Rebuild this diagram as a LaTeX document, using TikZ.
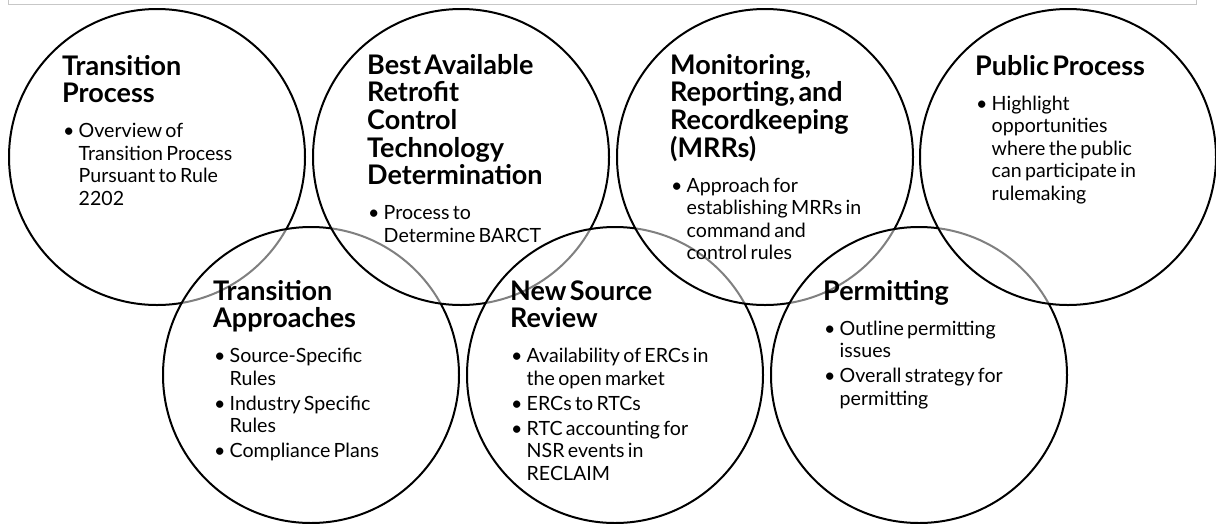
\documentclass[tikz,border=0pt]{standalone}
\usepackage{fontspec}
\setmainfont{Lato}
\newcommand\hdfont{\fontsize{27}{27.7}\selectfont\bfseries}
\newcommand\bdfont{\fontsize{19.6}{22.5}\selectfont}
\newcommand\hd[1]{{\hdfont #1\par}\vspace{10pt}}
\newcommand\itm[1]{\par\vspace{2.5pt}{\bdfont\hangindent=16.5pt\hangafter=1\noindent\makebox[16.5pt][l]{\hspace{1pt}\textbullet}#1\par}}
\tikzset{
  ring/.style={circle, draw, line width=2pt, fill=white, fill opacity=0.5,
    minimum size=296pt, inner sep=0pt},
  txt/.style={anchor=base west, inner sep=0pt, text width=270pt, align=left},
  frame/.style={draw=black!22, line width=1pt}
}
\begin{document}
\begin{tikzpicture}[x=1pt, y=-1pt]
    \useasboundingbox (0,0) rectangle (1216,523);
    %Frame
        \draw[frame] (8,0) -- (8,4) -- (1196,4) -- (1196,0);

    %Circles
        \node[ring] (tp) at (157,157) {};
        \node[ring] (ta) at (311,375) {};
        \node[ring] (barct) at (461,157) {};
        \node[ring] (nsr) at (615,375) {};
        \node[ring] (mrr) at (765,157) {};
        \node[ring] (perm) at (919,375) {};
        \node[ring] (pub) at (1068,157) {};

    %Text
        \node[txt] (tp-txt) at (62,75) {\hd{Transition\newline Process}%
            \itm{Overview of\newline Transition Process\newline Pursuant to Rule\newline 2202}};
        \node[txt] (barct-txt) at (367,74) {\hd{Best Available\newline Retrofit\newline Control\newline Technology\newline Determination}%
            \itm{Process to\newline Determine BARCT}};
        \node[txt] (mrr-txt) at (670,74) {\hd{Monitoring,\newline Reporting, and\newline Recordkeeping\newline (MRRs)}%
            \itm{Approach for\newline establishing MRRs in\newline command and\newline control rules}};
        \node[txt] (pub-txt) at (975,75) {\hd{Public Process}%
            \itm{Highlight\newline opportunities\newline where the public\newline can participate in\newline rulemaking}};
        \node[txt] (ta-txt) at (213,300) {\hd{Transition\newline Approaches}%
            \itm{Source-Specific\newline Rules}\itm{Industry Specific\newline Rules}\itm{Compliance Plans}};
        \node[txt] (nsr-txt) at (510,300) {\hd{New Source\newline Review}%
            \itm{Availability of ERCs in\newline the open market}\itm{ERCs to RTCs}%
            \itm{RTC accounting for\newline NSR events in\newline RECLAIM}};
        \node[txt] (perm-txt) at (823,300) {\hd{Permitting}%
            \itm{Outline permitting\newline issues}\itm{Overall strategy for\newline permitting}};
\end{tikzpicture}
\end{document}
